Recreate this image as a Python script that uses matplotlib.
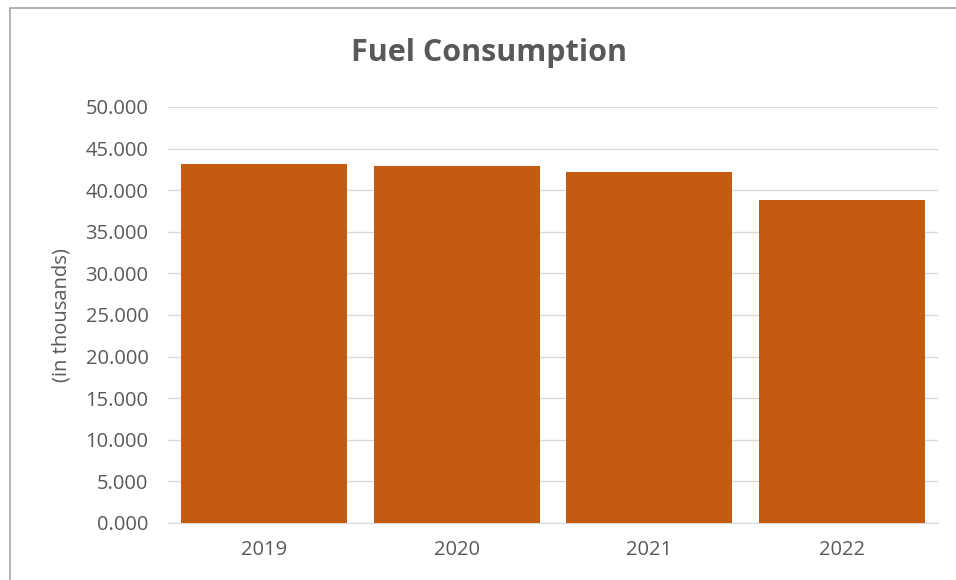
import matplotlib
matplotlib.use('Agg')
import matplotlib.pyplot as plt
from matplotlib.patches import Rectangle
from matplotlib.ticker import FuncFormatter, MultipleLocator

years = ['2019', '2020', '2021', '2022']
fuel = [43.1, 42.9, 42.2, 38.8]   # in thousands

plt.rcParams['font.family'] = ['Open Sans', 'DejaVu Sans']

fig = plt.figure(figsize=(9.56, 5.8), dpi=100)
# chart frame (cropped at right and bottom)
fig.patches.append(Rectangle((10/956, -0.1), 1.2, 1 - 8/580 + 0.1, transform=fig.transFigure,
                             fill=False, edgecolor='#a6a6a6', linewidth=1.2))

ax = fig.add_axes([168/956, 1 - 523/580, 770/956, 416/580])
x = range(len(years))
ax.bar(x, fuel, width=0.86, color='#C55A11', zorder=3)
ax.set_xlim(-0.5, len(years) - 0.5)
ax.set_ylim(0, 50)
ax.yaxis.set_major_locator(MultipleLocator(5))
ax.yaxis.set_major_formatter(FuncFormatter(lambda v, p: '%.3f' % v))
ax.set_xticks(list(x))
ax.set_xticklabels(years)
ax.grid(axis='y', color='#d9d9d9', linewidth=1, zorder=0)
for s in ['top', 'right', 'left']:
    ax.spines[s].set_visible(False)
ax.spines['bottom'].set_color('#d9d9d9')
ax.tick_params(axis='both', length=0, labelsize=14.5, colors='#595959')
ax.tick_params(axis='y', pad=14)
ax.tick_params(axis='x', pad=12)
ax.set_ylabel('(in thousands)', fontsize=14.5, color='#595959', labelpad=10)

fig.text(489/956, 1 - 53/580, 'Fuel Consumption', ha='center', va='center',
         fontsize=22, fontweight='bold', color='#595959')

fig.savefig('out.png', dpi=100)
